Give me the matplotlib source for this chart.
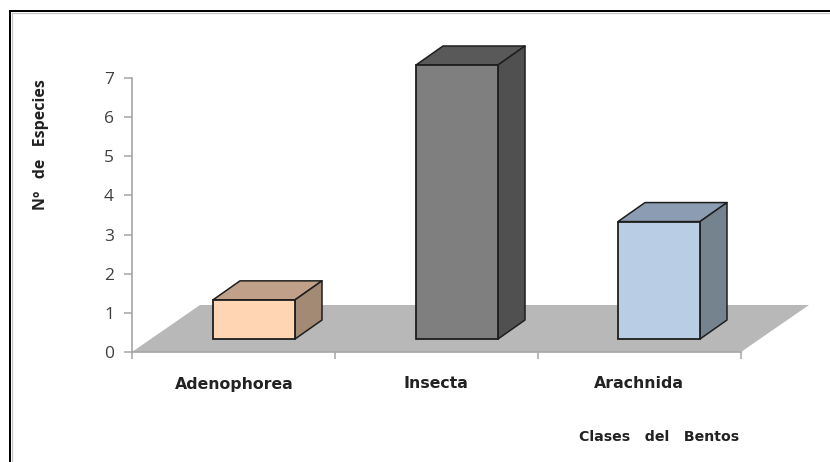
import matplotlib
matplotlib.use("Agg")
import matplotlib.pyplot as plt
from matplotlib.patches import Polygon
from matplotlib.lines import Line2D

categories = ["Adenophorea", "Insecta", "Arachnida"]
values = [1, 7, 3]
front_colors = ["#FFD5B4", "#7F7F7F", "#B9CDE5"]
top_colors = ["#C0A088", "#595959", "#8C9DB3"]
side_colors = ["#A38A74", "#505050", "#75838F"]
y_ticks = list(range(8))

W, H = 830, 462
plt.rcParams["font.family"] = ["Open Sans", "DejaVu Sans"]
fig = plt.figure(figsize=(W / 100, H / 100), dpi=100, facecolor="white")

# frame of the pasted picture
for xs, ys, c, lw in [
    ([9.5, 9.5], [462, 11], "#000000", 2.0),
    ([9.5, 830], [11, 11], "#000000", 2.0),
    ([11.5, 11.5], [462, 13], "#C4C4C4", 1.2),
    ([11.5, 830], [13, 13], "#C4C4C4", 1.2),
]:
    fig.add_artist(Line2D([x / W for x in xs], [1 - y / H for y in ys], color=c, lw=lw * 0.72))

L, R, T, B = 132, 741, 78, 352
ax = fig.add_axes([L / W, 1 - B / H, (R - L) / W, (B - T) / H])
ax.set_xlim(0, 3)
ax.set_ylim(0, 7)
ax.patch.set_visible(False)
for s in ("top", "right"):
    ax.spines[s].set_visible(False)
for s in ("left", "bottom"):
    ax.spines[s].set_color("#A6A6A6")
    ax.spines[s].set_linewidth(1.2)
    ax.spines[s].set_zorder(1)

# floor
fx = 68 / 203
fy = 47 / 39.14
ax.add_patch(Polygon([(0, 0), (3, 0), (3 + fx, fy), (fx, fy)], closed=True,
                     fc="#B8B8B8", ec="none", zorder=0.5, clip_on=False))

# oblique 3D bars
width = 82 / 203
base_y = 13 / 39.14
centers = [(254 - L) / 203, (457 - L) / 203, (659 - L) / 203]
dx = 27 / 203
dy = 19 / 39.14
edge = dict(ec="#1E1E1E", lw=1.1, zorder=3, joinstyle="round", clip_on=False)
for c, v, fc, tc, sc in zip(centers, values, front_colors, top_colors, side_colors):
    x0, x1 = c - width / 2, c + width / 2
    y0, y1 = base_y, base_y + v
    ax.add_patch(Polygon([(x0, y1), (x1, y1), (x1 + dx, y1 + dy), (x0 + dx, y1 + dy)], closed=True, fc=tc, **edge))
    ax.add_patch(Polygon([(x1, y0), (x1 + dx, y0 + dy), (x1 + dx, y1 + dy), (x1, y1)], closed=True, fc=sc, **edge))
    ax.bar(c, v, width=width, bottom=y0, color=fc, edgecolor="#1E1E1E", linewidth=1.3, zorder=4, clip_on=False)

ax.set_yticks(y_ticks)
ax.tick_params(axis="y", length=6, width=1.1, color="#A6A6A6", labelsize=12.5, labelcolor="#404040", pad=7)
ax.set_xticks([0, 1, 2, 3])
ax.set_xticklabels([])
ax.tick_params(axis="x", which="major", length=5, width=1.1, color="#A6A6A6")

label_x = [234, 436, 639]
for lx, name in zip(label_x, categories):
    fig.text(lx / W, 1 - 384 / H, name, ha="center", va="center", fontsize=11.3,
             fontweight="bold", color="#222222", family="DejaVu Sans")
fig.text(659 / W, 1 - 437 / H, "Clases   del   Bentos", ha="center", va="center", fontsize=10.2,
         fontweight="bold", color="#222222", family="DejaVu Sans")
fig.text(41 / W, 1 - 145 / H, "Nº   de   Especies", rotation=90, ha="center", va="center", fontsize=11.5,
         fontweight="bold", color="#222222")

fig.savefig("out.png", dpi=100, facecolor="white")
